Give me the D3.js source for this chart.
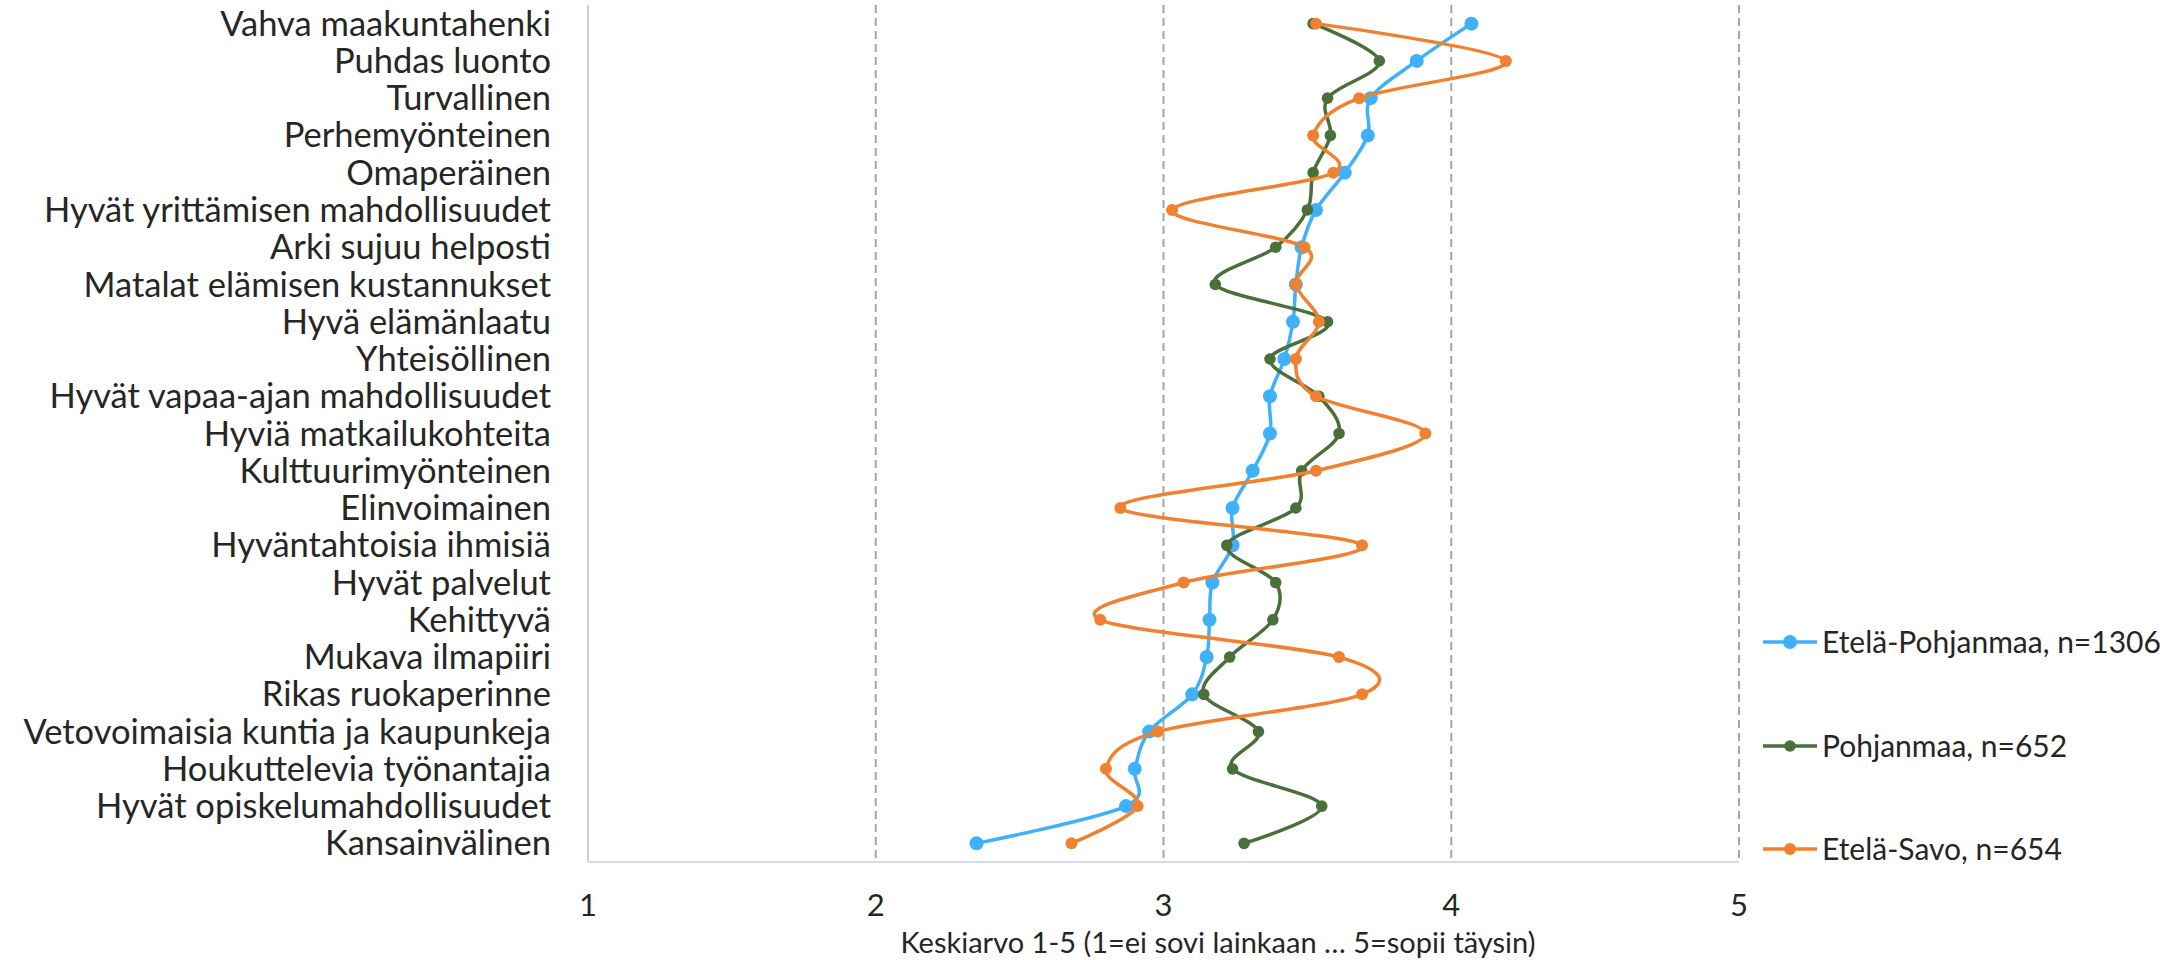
<!DOCTYPE html>
<html>
<head>
<meta charset="utf-8">
<script src="https://cdn.jsdelivr.net/npm/d3@7"></script>
<style>
  html, body { margin: 0; padding: 0; background: #fff; }
  svg { display: block; }
</style>
</head>
<body>
<div id="chart"></div>
<script>
const categories = [
  'Vahva maakuntahenki', 'Puhdas luonto', 'Turvallinen', 'Perhemyönteinen',
  'Omaperäinen', 'Hyvät yrittämisen mahdollisuudet', 'Arki sujuu helposti',
  'Matalat elämisen kustannukset', 'Hyvä elämänlaatu', 'Yhteisöllinen',
  'Hyvät vapaa-ajan mahdollisuudet', 'Hyviä matkailukohteita', 'Kulttuurimyönteinen',
  'Elinvoimainen', 'Hyväntahtoisia ihmisiä', 'Hyvät palvelut', 'Kehittyvä',
  'Mukava ilmapiiri', 'Rikas ruokaperinne', 'Vetovoimaisia kuntia ja kaupunkeja',
  'Houkuttelevia työnantajia', 'Hyvät opiskelumahdollisuudet', 'Kansainvälinen'
];

const etelaPohjanmaa = [4.07, 3.88, 3.72, 3.71, 3.63, 3.53, 3.48, 3.46, 3.45, 3.42, 3.37, 3.37,
                        3.31, 3.24, 3.24, 3.17, 3.16, 3.15, 3.10, 2.95, 2.90, 2.87, 2.35];
const pohjanmaa      = [3.52, 3.75, 3.57, 3.58, 3.52, 3.50, 3.39, 3.18, 3.57, 3.37, 3.54, 3.61,
                        3.48, 3.46, 3.22, 3.39, 3.38, 3.23, 3.14, 3.33, 3.24, 3.55, 3.28];
const etelaSavo      = [3.53, 4.19, 3.68, 3.52, 3.59, 3.03, 3.49, 3.46, 3.54, 3.46, 3.53, 3.91,
                        3.53, 2.85, 3.69, 3.07, 2.78, 3.61, 3.69, 2.98, 2.80, 2.91, 2.68];

const seriesNames = ['Etelä-Pohjanmaa, n=1306', 'Pohjanmaa, n=652', 'Etelä-Savo, n=654'];
const xTicks = [1, 2, 3, 4, 5];
const xTitle = 'Keskiarvo 1-5 (1=ei sovi lainkaan … 5=sopii täysin)';

const BLUE   = '#3fb1fa';
const GREEN  = '#4b6f3b';
const ORANGE = '#ef8130';
const INK    = '#262626';
const GRID   = '#a6a6a6';
const FONT   = 'Lato, "Open Sans", sans-serif';

const series = [
  { name: seriesNames[0], values: etelaPohjanmaa, color: BLUE,   r: 7 },
  { name: seriesNames[1], values: pohjanmaa,      color: GREEN,  r: 5.8 },
  { name: seriesNames[2], values: etelaSavo,      color: ORANGE, r: 6 }
];

const W = 2181, H = 960;
const plotLeft = 588, plotRight = 1739, plotTop = 5, plotBottom = 862;

const svg = d3.select('#chart').append('svg')
  .attr('width', W).attr('height', H)
  .attr('viewBox', `0 0 ${W} ${H}`);

const x = d3.scaleLinear().domain([1, 5]).range([plotLeft, plotRight]);
const y = d3.scalePoint().domain(categories).range([plotTop, plotBottom]).padding(0.5);

// vertical gridlines
svg.selectAll('.grid')
  .data(xTicks.slice(1))
  .join('line')
  .attr('class', 'grid')
  .attr('x1', d => x(d)).attr('x2', d => x(d))
  .attr('y1', plotTop).attr('y2', plotBottom)
  .attr('stroke', GRID)
  .attr('stroke-width', 2)
  .attr('stroke-dasharray', '8,5');

// left axis line
svg.append('line')
  .attr('x1', x(1)).attr('x2', x(1))
  .attr('y1', plotTop).attr('y2', plotBottom)
  .attr('stroke', '#bfbfbf').attr('stroke-width', 1.5);

// bottom axis line
svg.append('line')
  .attr('x1', x(1)).attr('x2', x(5))
  .attr('y1', plotBottom).attr('y2', plotBottom)
  .attr('stroke', '#d3dcdf').attr('stroke-width', 2);

// category labels
svg.selectAll('.cat')
  .data(categories)
  .join('text')
  .attr('class', 'cat')
  .attr('x', 551)
  .attr('y', d => y(d))
  .attr('dy', '0.35em')
  .attr('text-anchor', 'end')
  .attr('font-family', FONT)
  .attr('font-size', 34.5)
  .attr('fill', INK)
  .text(d => d);

// x tick labels
svg.selectAll('.xtick')
  .data(xTicks)
  .join('text')
  .attr('class', 'xtick')
  .attr('x', d => x(d))
  .attr('y', 905)
  .attr('dy', '0.35em')
  .attr('text-anchor', 'middle')
  .attr('font-family', FONT)
  .attr('font-size', 31)
  .attr('fill', INK)
  .text(d => d);

// x axis title
svg.append('text')
  .attr('x', 1218)
  .attr('y', 943)
  .attr('dy', '0.35em')
  .attr('text-anchor', 'middle')
  .attr('font-family', FONT)
  .attr('font-size', 29)
  .attr('fill', INK)
  .text(xTitle);

// smoothed lines
const line = d3.line()
  .x(d => x(d.v))
  .y(d => y(d.c))
  .curve(d3.curveCatmullRom.alpha(0));

series.forEach(s => {
  const pts = s.values.map((v, i) => ({ v, c: categories[i] }));
  const g = svg.append('g');
  g.append('path')
    .datum(pts)
    .attr('d', line)
    .attr('fill', 'none')
    .attr('stroke', s.color)
    .attr('stroke-width', 3.5)
    .attr('stroke-linejoin', 'round');
  g.selectAll('circle')
    .data(pts)
    .join('circle')
    .attr('cx', d => x(d.v))
    .attr('cy', d => y(d.c))
    .attr('r', s.r)
    .attr('fill', s.color);
});

// legend
const legendY = [642, 746, 849];
const leg = svg.selectAll('.legend')
  .data(series)
  .join('g')
  .attr('class', 'legend')
  .attr('transform', (d, i) => `translate(1763,${legendY[i]})`);

leg.append('line')
  .attr('x1', 0).attr('x2', 54)
  .attr('stroke', d => d.color)
  .attr('stroke-width', 3.5);

leg.append('circle')
  .attr('cx', 27)
  .attr('r', d => d.r)
  .attr('fill', d => d.color);

leg.append('text')
  .attr('x', 59)
  .attr('dy', '0.35em')
  .attr('font-family', FONT)
  .attr('font-size', 30)
  .attr('fill', INK)
  .text(d => d.name);
</script>
</body>
</html>
